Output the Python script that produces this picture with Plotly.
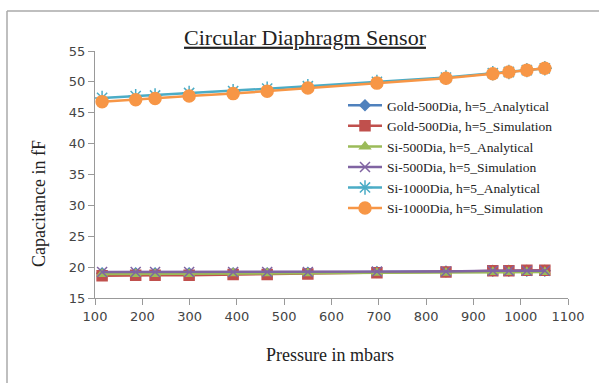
import plotly.graph_objects as go

pressure = [115, 186, 227, 299, 392, 464, 550, 696, 842, 941, 975, 1013, 1051]
gold500_analytical = [19.0, 19.0, 19.0, 19.0, 19.0, 19.0, 19.1, 19.2, 19.3, 19.4, 19.4, 19.4, 19.4]
gold500_simulation = [18.6, 18.7, 18.7, 18.7, 18.8, 18.8, 18.9, 19.1, 19.2, 19.4, 19.4, 19.5, 19.5]
si500_analytical = [18.9, 18.9, 18.9, 18.9, 19.0, 19.0, 19.0, 19.1, 19.1, 19.2, 19.2, 19.2, 19.2]
si500_simulation = [19.2, 19.2, 19.2, 19.2, 19.2, 19.2, 19.2, 19.3, 19.3, 19.4, 19.4, 19.4, 19.4]
si1000_analytical = [47.4, 47.7, 47.8, 48.2, 48.5, 48.9, 49.3, 50.0, 50.7, 51.4, 51.6, 51.9, 52.2]
si1000_simulation = [46.8, 47.1, 47.3, 47.7, 48.1, 48.5, 49.0, 49.8, 50.6, 51.3, 51.6, 51.9, 52.2]

names = ["Gold-500Dia, h=5_Analytical", "Gold-500Dia, h=5_Simulation",
         "Si-500Dia, h=5_Analytical", "Si-500Dia, h=5_Simulation",
         "Si-1000Dia, h=5_Analytical", "Si-1000Dia, h=5_Simulation"]
series = [gold500_analytical, gold500_simulation, si500_analytical,
          si500_simulation, si1000_analytical, si1000_simulation]
colors = ["#4F81BD", "#C0504D", "#9BBB59", "#8064A2", "#4BACC6", "#F79646"]
symbols = ["diamond", "square", "triangle-up", "x-thin-open", "asterisk-open", "circle"]
sizes = [8, 10, 9, 10, 12, 12]

fig = go.Figure()
for n, s, c, sym, sz in zip(names, series, colors, symbols, sizes):
    fig.add_trace(go.Scatter(
        x=pressure, y=s, name=n, mode="lines+markers",
        line=dict(color=c, width=2.5),
        marker=dict(symbol=sym, size=sz, color=c, line=dict(color=c, width=1.5)),
    ))

L, R, T, B = 95, 31, 51, 85
W, H = 599, 383
pw, ph = W - L - R, H - T - B

def px(x):
    return (x - L) / pw

def py(y):
    return (H - B - y) / ph

axis_common = dict(showgrid=False, zeroline=False, showline=True, linecolor="#999",
                   linewidth=1, ticks="outside", ticklen=6, tickcolor="#999",
                   tickfont=dict(family="DejaVu Sans", size=13, color="#444"))

fig.update_layout(
    width=W, height=H,
    margin=dict(l=L, r=R, t=T, b=B),
    paper_bgcolor="white", plot_bgcolor="white",
    showlegend=True,
    legend=dict(x=px(343), y=py(90), xanchor="left", yanchor="top",
                font=dict(family="Liberation Serif", size=13.5, color="#222"),
                bgcolor="rgba(0,0,0,0)", tracegroupgap=0, itemwidth=34),
    xaxis=dict(range=[100, 1100], tickvals=list(range(100, 1101, 100)), **axis_common),
    yaxis=dict(range=[15, 55], tickvals=list(range(15, 56, 5)), **axis_common),
    title=dict(text="<u>Circular Diaphragm Sensor</u>", xref="container", x=305 / W,
               xanchor="center", y=1 - 37 / H, yanchor="middle",
               font=dict(family="Liberation Serif", size=22, color="#222")),
    annotations=[
        dict(text="Pressure in mbars", xref="paper", yref="paper",
             x=px(330), y=py(355), xanchor="center", yanchor="middle", showarrow=False,
             font=dict(family="Liberation Serif", size=18, color="#222")),
        dict(text="Capacitance in fF", xref="paper", yref="paper", textangle=-90,
             x=px(39), y=py(204), xanchor="center", yanchor="middle", showarrow=False,
             font=dict(family="Liberation Serif", size=18, color="#222")),
    ],
    shapes=[
        dict(type="line", xref="paper", yref="paper",
             x0=px(7), x1=px(599), y0=py(11), y1=py(11),
             line=dict(color="#aaa", width=1.5)),
        dict(type="line", xref="paper", yref="paper",
             x0=px(7), x1=px(7), y0=py(11), y1=py(383),
             line=dict(color="#aaa", width=1.5)),
    ],
)

fig.write_html("out.html", config={"displayModeBar": False},
               post_script="document.body.style.margin='0px';")
